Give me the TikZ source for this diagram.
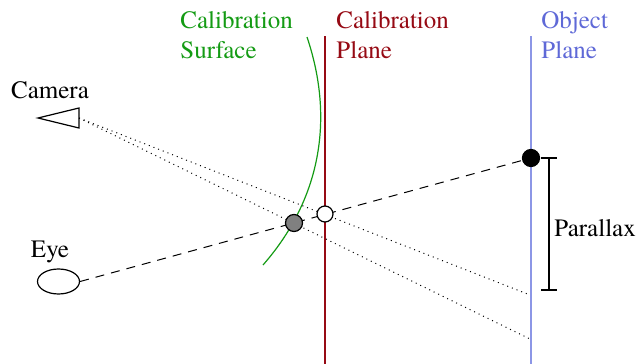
\documentclass[tikz,border=0pt]{standalone}
\usepackage{fontspec}
\setmainfont{TeX Gyre Termes}
\usetikzlibrary{shapes.geometric}
\definecolor{surfgreen}{RGB}{20,155,20}
\definecolor{planered}{RGB}{150,10,20}
\definecolor{objblue}{RGB}{95,105,215}
\definecolor{objline}{RGB}{140,150,230}
\tikzset{
  lbl/.style={font=\rmfamily\fontsize{12.5}{15}\selectfont, inner sep=0pt},
  plbl/.style={lbl, align=left, anchor=north west},
  dot/.style={circle, draw=black, line width=0.6pt, inner sep=0pt, minimum size=8.5pt},
  sightline/.style={dashed, dash pattern=on 4.5pt off 3.5pt, line width=0.5pt},
  camline/.style={dotted, line width=0.5pt},
}
\begin{document}
\begin{tikzpicture}[x=0.5pt,y=-0.5pt]
\useasboundingbox (0,0) rectangle (639,364);
% planes
\draw[planered, line width=0.6pt] (325,36) -- (325,364);
\draw[objline, line width=0.9pt] (531,36) -- (531,364);
\draw[surfgreen, line width=0.6pt] (307,37) .. controls (335,120) and (320,200) .. (263,265);
% labels
\node[plbl, text=surfgreen] (lsurf) at (180,11) {Calibration\\Surface};
\node[plbl, text=planered] (lplane) at (336,11) {Calibration\\Plane};
\node[plbl, text=objblue] (lobj) at (541,11) {Object\\Plane};
% camera
\coordinate (cam) at (79,118);
\draw[line width=0.6pt] (cam) -- (79,108) -- (38,118) -- (79,128) -- cycle;
\node[lbl] (lcam) at (50,90) {Camera};
% eye
\node[ellipse, draw, line width=0.6pt, minimum width=21pt, minimum height=12.5pt, inner sep=0pt] (eye) at (58.5,281.5) {};
\node[lbl] (leye) at (50,252) {Eye};
% endpoints on object plane
\coordinate (c1) at (530,295);
\coordinate (c2) at (530,339);
% dots
\coordinate (objpos) at (531,158);
\coordinate (surfpos) at (294,223);
\coordinate (planepos) at (325,214);
% lines
\draw[camline] (cam) -- (c1);
\draw[camline] (cam) -- (c2);
\draw[sightline] (eye.east) -- (objpos);
\node[dot, fill=black] (obj) at (objpos) {};
\node[dot, fill=gray] (surf) at (surfpos) {};
\node[dot, fill=white, minimum size=8pt] (plane) at (planepos) {};
% parallax
\coordinate (ptop) at (549,158);
\coordinate (pbot) at (549,290);
\draw[line width=0.6pt] (ptop) -- (pbot);
\draw[line width=0.6pt] ([xshift=-4]ptop) -- ([xshift=4]ptop);
\draw[line width=0.6pt] ([xshift=-4]pbot) -- ([xshift=4]pbot);
\node[lbl, anchor=west] (lpar) at (554,228) {Parallax};
\end{tikzpicture}
\end{document}
